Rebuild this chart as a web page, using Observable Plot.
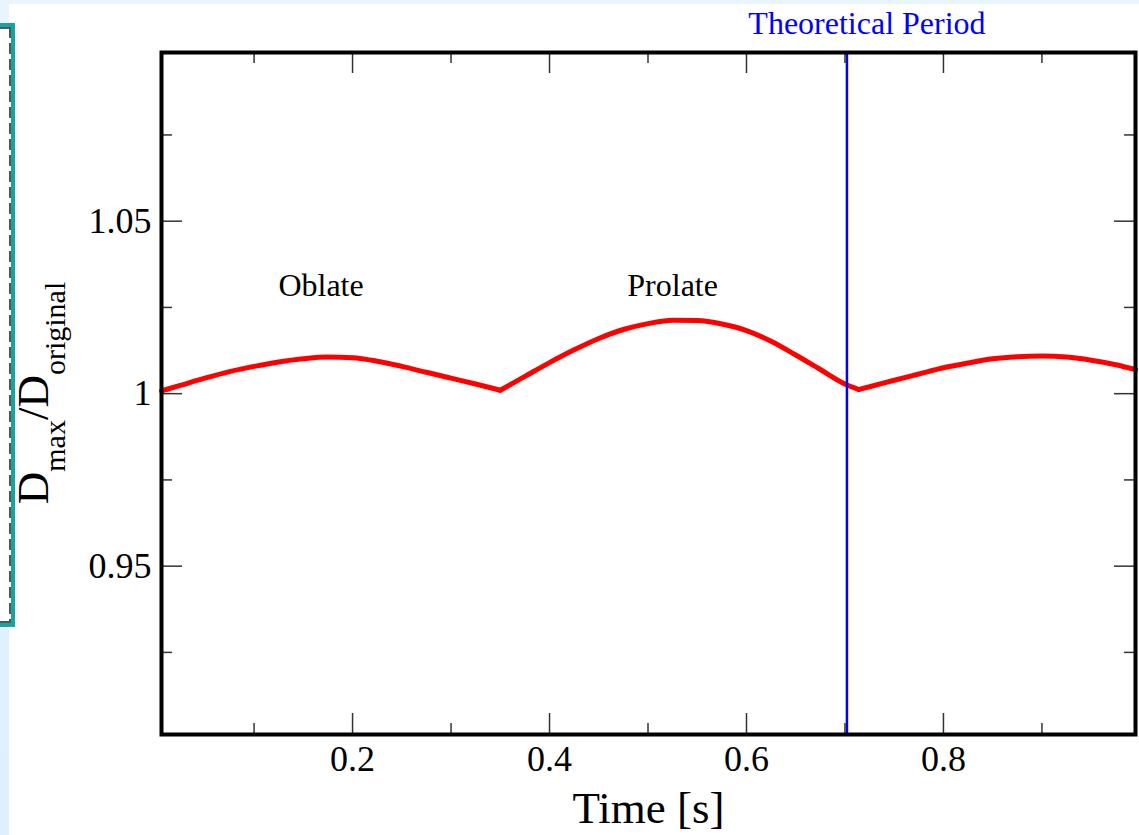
<!DOCTYPE html>
<html>
<head>
<meta charset="utf-8">
<script src="https://cdn.jsdelivr.net/npm/d3@7"></script>
<script src="https://cdn.jsdelivr.net/npm/@observablehq/plot@0.6"></script>
<style>
  html, body { margin: 0; padding: 0; }
  body { width: 1139px; height: 835px; overflow: hidden; position: relative;
         background: linear-gradient(#e8f5fe, #ddf0fc); }
  #panel { position: absolute; left: 9px; top: 4px; right: 0; bottom: 0; background: #ffffff; }
  #box { position: absolute; left: -12px; top: 23px; width: 19px; height: 596px;
         border: 4px solid #17a3a1; background: #ffffff; }
  #box-top { position: absolute; left: 0; right: 0; top: 0; height: 2px; background: #4d5a5a; }
  #box-bottom { position: absolute; left: 0; right: 0; bottom: 0; height: 2px; background: #4d5a5a; }
  #box-dash { position: absolute; right: 0; top: 0; bottom: 0; width: 2px;
         background: repeating-linear-gradient(to bottom, #4d5a5a 0px, #4d5a5a 11px, transparent 11px, transparent 16px); }
  #chart { position: absolute; left: 0; top: 0; }
</style>
</head>
<body>
<div id="panel"></div>
<div id="box"><div id="box-top"></div><div id="box-dash"></div><div id="box-bottom"></div></div>
<div id="chart"></div>
<script>
// ---- data ----
const segment = [
  "oblate-1","oblate-1","oblate-1","oblate-1","oblate-1","oblate-1","oblate-1","oblate-1","oblate-1","oblate-1","oblate-1","oblate-1","oblate-1","oblate-1","oblate-1",
  "prolate","prolate","prolate","prolate","prolate","prolate","prolate","prolate","prolate","prolate","prolate","prolate","prolate","prolate","prolate","prolate",
  "oblate-2","oblate-2","oblate-2","oblate-2","oblate-2","oblate-2","oblate-2","oblate-2","oblate-2","oblate-2","oblate-2","oblate-2","oblate-2"
];
const time = [
  0.006, 0.025, 0.05, 0.075, 0.1, 0.125, 0.15, 0.175, 0.2, 0.225, 0.25, 0.275, 0.3, 0.325, 0.35,
  0.35, 0.375, 0.4, 0.425, 0.45, 0.475, 0.5, 0.525, 0.55, 0.575, 0.6, 0.625, 0.65, 0.675, 0.7, 0.714,
  0.714, 0.725, 0.75, 0.775, 0.8, 0.825, 0.85, 0.875, 0.9, 0.925, 0.95, 0.975, 0.995
];
const ratio = [
  1.0008, 1.0024, 1.0045, 1.0064, 1.0079, 1.0092, 1.0101, 1.0106, 1.0104, 1.0094, 1.0079, 1.0062, 1.0045, 1.0028, 1.0010,
  1.0010, 1.0050, 1.0090, 1.0127, 1.0160, 1.0186, 1.0203, 1.0213, 1.0212, 1.0202, 1.0183, 1.0152, 1.0112, 1.0070, 1.0028, 1.0012,
  1.0012, 1.0020, 1.0039, 1.0057, 1.0075, 1.0089, 1.0101, 1.0107, 1.0109, 1.0106, 1.0097, 1.0084, 1.0070
];
const theoreticalPeriod = 0.702;
const xMajor = [0.2, 0.4, 0.6, 0.8];
const xMinor = [0.1, 0.3, 0.5, 0.7, 0.9];
const yMajor = [0.95, 1, 1.05];
const yMinor = [0.925, 0.975, 1.025, 1.075];
const phaseLabels = ["Oblate", "Prolate"];
const phaseX = [0.168, 0.525];
const phaseY = [1.0282, 1.0282];
const xDomain = [0.006, 0.995];
const yDomain = [0.9012, 1.0989];

// ---- layout ----
const W = 1139, H = 835;
const mT = 52, mB = 101, mL = 161, mR = 4;
const innerH = H - mT - mB, innerW = W - mL - mR;
const majorLen = 21, minorLen = 11;
const tickColor = "#333";
const serif = "'Liberation Serif', 'Times New Roman', serif";

const series = time.map((t, i) => ({t, v: ratio[i], seg: segment[i]}));
const phases = phaseLabels.map((s, i) => ({s, x: phaseX[i], y: phaseY[i]}));

const chart = Plot.plot({
  width: W, height: H,
  marginTop: mT, marginBottom: mB, marginLeft: mL, marginRight: mR,
  x: {domain: xDomain},
  y: {domain: yDomain},
  style: {fontFamily: serif, background: "transparent", color: "black", overflow: "visible"},
  marks: [
    Plot.line(series, {x: "t", y: "v", z: "seg", curve: "monotone-x", stroke: "#ff0000", strokeWidth: 5, strokeLinejoin: "miter"}),
    Plot.ruleX([theoreticalPeriod], {x: d => d, stroke: "#0000ff", strokeWidth: 2.5}),
    // inward ticks: bottom & top
    Plot.tickX(xMajor, {x: d => d, insetTop: innerH - majorLen, stroke: tickColor, strokeWidth: 1.5}),
    Plot.tickX(xMajor, {x: d => d, insetBottom: innerH - majorLen, stroke: tickColor, strokeWidth: 1.5}),
    Plot.tickX(xMinor, {x: d => d, insetTop: innerH - minorLen, stroke: tickColor, strokeWidth: 1.5}),
    Plot.tickX(xMinor, {x: d => d, insetBottom: innerH - minorLen, stroke: tickColor, strokeWidth: 1.5}),
    // inward ticks: left & right
    Plot.tickY(yMajor, {y: d => d, insetRight: innerW - majorLen, stroke: tickColor, strokeWidth: 1.5}),
    Plot.tickY(yMajor, {y: d => d, insetLeft: innerW - majorLen, stroke: tickColor, strokeWidth: 1.5}),
    Plot.tickY(yMinor, {y: d => d, insetRight: innerW - minorLen, stroke: tickColor, strokeWidth: 1.5}),
    Plot.tickY(yMinor, {y: d => d, insetLeft: innerW - minorLen, stroke: tickColor, strokeWidth: 1.5}),
    Plot.frame({stroke: "black", strokeWidth: 4}),
    Plot.axisX(xMajor, {tickSize: 0, tickPadding: 11, fontSize: 36, tickFormat: d => String(d), label: null}),
    Plot.axisY(yMajor, {tickSize: 0, tickPadding: 10, fontSize: 36, tickFormat: d => String(d), label: null}),
    Plot.text(phases, {x: "x", y: "y", text: "s", fontSize: 32, lineAnchor: "bottom", textAnchor: "middle", fill: "black"}),
    Plot.text(["Theoretical Period"], {x: [theoreticalPeriod], frameAnchor: "top", dy: -19, dx: 20, lineAnchor: "bottom",
      textAnchor: "middle", fontSize: 32, fill: "#0000ff"}),
    Plot.text(["Time [s]"], {frameAnchor: "bottom", lineAnchor: "bottom", dy: 88, fontSize: 45, fill: "black"})
  ]
});

document.getElementById("chart").appendChild(chart);

// y-axis label with subscripts
const svg = d3.select(chart);
const ylab = svg.append("text")
  .attr("transform", `translate(48, ${mT + innerH / 2}) rotate(-90)`)
  .attr("text-anchor", "middle")
  .attr("fill", "black")
  .style("font-family", serif);
ylab.append("tspan").attr("font-size", 45).text("D");
ylab.append("tspan").attr("font-size", 30).attr("dy", 17).text("max");
ylab.append("tspan").attr("font-size", 45).attr("dy", -17).text("/D");
ylab.append("tspan").attr("font-size", 30).attr("dy", 17).text("original");
</script>
</body>
</html>
